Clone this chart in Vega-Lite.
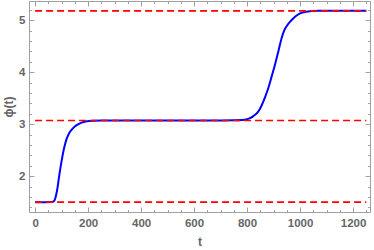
{
  "$schema": "https://vega.github.io/schema/vega-lite/v6.json",
  "width": 341,
  "height": 211,
  "autosize": {"type": "none"},
  "padding": {"left": 29, "top": 1, "right": 4, "bottom": 38},
  "background": "white",
  "config": {
    "view": {"stroke": "#a0a0a0", "strokeWidth": 1},
    "axis": {
      "grid": false,
      "domain": false,
      "tickColor": "#a0a0a0",
      "labelFont": "Liberation Sans",
      "labelFontSize": 11.5,
      "labelFontWeight": "bold",
      "labelColor": "#666666",
      "titleFont": "Liberation Sans",
      "titleFontSize": 12,
      "titleFontWeight": "bold",
      "titleColor": "#666666"
    }
  },
  "datasets": {
    "curve": [
      {"t": 0, "phi": 1.5}, {"t": 40, "phi": 1.5}, {"t": 60, "phi": 1.502}, {"t": 67, "phi": 1.507},
      {"t": 72, "phi": 1.525}, {"t": 76, "phi": 1.57}, {"t": 80, "phi": 1.65}, {"t": 85, "phi": 1.79},
      {"t": 90, "phi": 1.97}, {"t": 95, "phi": 2.14}, {"t": 100, "phi": 2.29}, {"t": 105, "phi": 2.43},
      {"t": 110, "phi": 2.55}, {"t": 115, "phi": 2.65}, {"t": 120, "phi": 2.73}, {"t": 125, "phi": 2.79},
      {"t": 130, "phi": 2.84}, {"t": 139, "phi": 2.9}, {"t": 150, "phi": 2.955}, {"t": 162, "phi": 2.995},
      {"t": 175, "phi": 3.03}, {"t": 190, "phi": 3.05}, {"t": 205, "phi": 3.062}, {"t": 220, "phi": 3.067},
      {"t": 250, "phi": 3.07}, {"t": 400, "phi": 3.07}, {"t": 600, "phi": 3.07}, {"t": 700, "phi": 3.072},
      {"t": 750, "phi": 3.075}, {"t": 780, "phi": 3.08}, {"t": 800, "phi": 3.095}, {"t": 811, "phi": 3.115},
      {"t": 825, "phi": 3.16}, {"t": 842, "phi": 3.24}, {"t": 855, "phi": 3.36}, {"t": 868, "phi": 3.52},
      {"t": 880, "phi": 3.69}, {"t": 893, "phi": 3.92}, {"t": 905, "phi": 4.14}, {"t": 918, "phi": 4.4},
      {"t": 930, "phi": 4.65}, {"t": 940, "phi": 4.8}, {"t": 950, "phi": 4.89}, {"t": 962, "phi": 4.97},
      {"t": 975, "phi": 5.04}, {"t": 990, "phi": 5.1}, {"t": 1000, "phi": 5.13}, {"t": 1015, "phi": 5.155},
      {"t": 1030, "phi": 5.17}, {"t": 1044, "phi": 5.178}, {"t": 1070, "phi": 5.18}, {"t": 1250, "phi": 5.18}
    ],
    "levels": [
      {"level": 1.5, "t0": 0, "t1": 1250},
      {"level": 3.07, "t0": 0, "t1": 1250},
      {"level": 5.18, "t0": 0, "t1": 1250}
    ]
  },
  "layer": [
    {
      "data": {"name": "curve"},
      "mark": {"type": "line", "color": "#0000ff", "strokeWidth": 2, "interpolate": "monotone", "clip": true},
      "encoding": {
        "x": {
          "field": "t", "type": "quantitative",
          "scale": {"domain": [-23, 1264], "nice": false, "zero": false},
          "axis": {
            "orient": "bottom", "title": "t", "titlePadding": 5,
            "values": [0, 50, 100, 150, 200, 250, 300, 350, 400, 450, 500, 550, 600, 650, 700, 750, 800, 850, 900, 950, 1000, 1050, 1100, 1150, 1200, 1250],
            "tickSize": {"condition": {"test": "datum.value % 200 === 0", "value": -5}, "value": -2.5},
            "labelExpr": "datum.value % 200 === 0 ? toString(datum.value) : ''",
            "labelPadding": 10,
            "labelOverlap": false
          }
        },
        "y": {
          "field": "phi", "type": "quantitative",
          "scale": {"domain": [1.31, 5.37], "nice": false, "zero": false},
          "axis": {
            "orient": "left", "title": "ϕ(t)", "titlePadding": 3,
            "values": [1.4, 1.6, 1.8, 2, 2.2, 2.4, 2.6, 2.8, 3, 3.2, 3.4, 3.6, 3.8, 4, 4.2, 4.4, 4.6, 4.8, 5, 5.2],
            "tickSize": {"condition": {"test": "abs(datum.value - round(datum.value)) < 0.01", "value": -5}, "value": -2.5},
            "labelExpr": "abs(datum.value - round(datum.value)) < 0.01 ? toString(round(datum.value)) : ''",
            "labelPadding": 9,
            "labelOverlap": false
          }
        }
      }
    },
    {
      "data": {"name": "levels"},
      "mark": {"type": "rule", "color": "#ff0000", "strokeWidth": 1.6, "strokeDash": [7, 4]},
      "encoding": {
        "x": {
          "field": "t0", "type": "quantitative",
          "axis": {
            "orient": "top", "title": null, "labels": false,
            "values": [0, 50, 100, 150, 200, 250, 300, 350, 400, 450, 500, 550, 600, 650, 700, 750, 800, 850, 900, 950, 1000, 1050, 1100, 1150, 1200, 1250],
            "tickSize": {"condition": {"test": "datum.value % 200 === 0", "value": -5}, "value": -2.5}
          }
        },
        "x2": {"field": "t1"},
        "y": {
          "field": "level", "type": "quantitative",
          "axis": {
            "orient": "right", "title": null, "labels": false,
            "values": [1.4, 1.6, 1.8, 2, 2.2, 2.4, 2.6, 2.8, 3, 3.2, 3.4, 3.6, 3.8, 4, 4.2, 4.4, 4.6, 4.8, 5, 5.2],
            "tickSize": {"condition": {"test": "abs(datum.value - round(datum.value)) < 0.01", "value": -5}, "value": -2.5}
          }
        }
      }
    }
  ],
  "resolve": {"axis": {"x": "independent", "y": "independent"}}
}
